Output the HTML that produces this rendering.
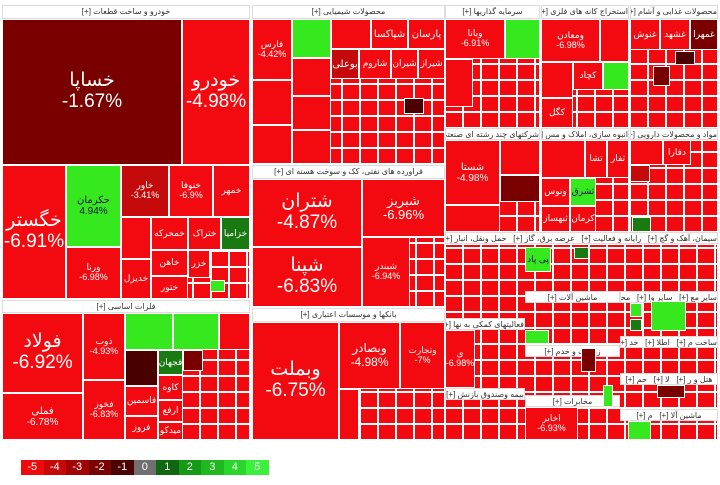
<!DOCTYPE html><html><head><meta charset="utf-8"><style>
body{margin:0;width:720px;height:485px;background:#fff;position:relative;overflow:hidden;font-family:"Liberation Sans","DejaVu Sans",sans-serif}
div{position:absolute;box-sizing:border-box}
.t{background:#f20a10;border:1px solid #fff;color:#fff;display:flex;align-items:center;justify-content:center;text-align:center;line-height:1.1;font-size:9px;overflow:hidden}
.g{background:#36e81e;color:#114}
.dg{background:#1a7a12}
.dr{background:#7a0000}
.md{background:#c40a0a}
.bk{background:#4a0000}
.h{background:#fff;border:1px solid #ddd;font-size:8px;color:#333;text-align:center;line-height:12px;white-space:nowrap;overflow:hidden;direction:rtl}
.grid{background-color:#f20a10;background-image:repeating-linear-gradient(90deg,transparent 0 16px,#fff 16px 18px),repeating-linear-gradient(0deg,transparent 0 14px,#fff 14px 16px);border:1px solid #fff}
.big{font-size:19px}
.lg{position:absolute;top:460px;height:15px;width:22.5px;color:#fff;font-size:11px;text-align:center;line-height:15px}
</style></head><body>
<div class="h" style="left:2px;top:5px;width:248px;height:14px">خودرو و ساخت قطعات [+]</div>
<div class="t dr big" style="left:2px;top:19px;width:180px;height:146px">خساپا<br>-1.67%</div>
<div class="t big" style="left:182px;top:19px;width:68px;height:146px">خودرو<br>-4.98%</div>
<div class="t big" style="left:2px;top:165px;width:64px;height:134px">خگستر<br>-6.91%</div>
<div class="t g" style="left:66px;top:165px;width:55px;height:82px;font-size:10px">حکرمان<br>4.94%</div>
<div class="t" style="left:66px;top:247px;width:55px;height:52px">ورنا<br>-6.98%</div>
<div class="t md" style="left:121px;top:165px;width:48px;height:52px">خاور<br>-3.41%</div>
<div class="t" style="left:169px;top:165px;width:44px;height:52px">خنوفا<br>-6.9%</div>
<div class="t" style="left:213px;top:165px;width:37px;height:52px">خمهر</div>
<div class="grid" style="left:121px;top:217px;width:129px;height:82px"></div>
<div class="t" style="left:121px;top:217px;width:30px;height:42px"></div>
<div class="t" style="left:151px;top:217px;width:37px;height:33px">خمحرکه</div>
<div class="t" style="left:188px;top:217px;width:33px;height:33px">ختراک</div>
<div class="t dg" style="left:221px;top:217px;width:29px;height:33px">خزامیا</div>
<div class="t" style="left:121px;top:259px;width:30px;height:40px">خدیزل</div>
<div class="t" style="left:151px;top:250px;width:37px;height:26px">خاهن</div>
<div class="t" style="left:151px;top:276px;width:37px;height:23px">ختور</div>
<div class="t" style="left:188px;top:250px;width:22px;height:28px">خزر</div>
<div class="t g" style="left:210px;top:280px;width:15px;height:12px"></div>
<div class="h" style="left:252px;top:5px;width:193px;height:14px">محصولات شیمیایی [+]</div>
<div class="grid" style="left:252px;top:19px;width:193px;height:145px"></div>
<div class="t" style="left:252px;top:19px;width:40px;height:61px">فارس<br>-4.42%</div>
<div class="t g" style="left:292px;top:19px;width:39px;height:39px"></div>
<div class="t" style="left:331px;top:19px;width:40px;height:30px"></div>
<div class="t" style="left:371px;top:19px;width:37px;height:30px;font-size:10px">شپاکسا</div>
<div class="t" style="left:408px;top:19px;width:37px;height:30px;font-size:10px">پارسان</div>
<div class="t md" style="left:331px;top:49px;width:28px;height:30px;font-size:10px">بوعلی</div>
<div class="t" style="left:359px;top:49px;width:32px;height:30px">شاروم</div>
<div class="t" style="left:391px;top:49px;width:27px;height:30px">شیران</div>
<div class="t" style="left:418px;top:49px;width:27px;height:30px">شیراز</div>
<div class="t" style="left:292px;top:58px;width:39px;height:38px"></div>
<div class="t" style="left:252px;top:80px;width:40px;height:45px"></div>
<div class="t" style="left:252px;top:125px;width:40px;height:39px"></div>
<div class="t" style="left:292px;top:96px;width:39px;height:34px"></div>
<div class="t" style="left:292px;top:130px;width:39px;height:34px"></div>
<div class="t bk" style="left:404px;top:98px;width:20px;height:16px"></div>
<div class="h" style="left:252px;top:165px;width:193px;height:14px">فراورده های نفتی، کک و سوخت هسته ای [+]</div>
<div class="t big" style="left:252px;top:179px;width:110px;height:68px">شتران<br>-4.87%</div>
<div class="t big" style="left:252px;top:247px;width:110px;height:60px">شپنا<br>-6.83%</div>
<div class="t" style="left:362px;top:179px;width:83px;height:58px;font-size:13px">شبریز<br>-6.96%</div>
<div class="grid" style="left:362px;top:237px;width:83px;height:70px"></div>
<div class="t" style="left:362px;top:237px;width:48px;height:70px">شبندر<br>-6.94%</div>
<div class="h" style="left:2px;top:300px;width:248px;height:13px">فلزات اساسی [+]</div>
<div class="grid" style="left:2px;top:313px;width:248px;height:127px"></div>
<div class="t big" style="left:2px;top:313px;width:81px;height:80px">فولاد<br>-6.92%</div>
<div class="t" style="left:2px;top:393px;width:81px;height:47px;font-size:10px">فملی<br>-6.78%</div>
<div class="t" style="left:83px;top:313px;width:42px;height:67px">ذوب<br>-4.93%</div>
<div class="t" style="left:83px;top:380px;width:42px;height:60px">فخوز<br>-6.83%</div>
<div class="t g" style="left:125px;top:313px;width:48px;height:37px"></div>
<div class="t g" style="left:173px;top:313px;width:46px;height:37px"></div>
<div class="t" style="left:219px;top:313px;width:31px;height:37px"></div>
<div class="t bk" style="left:125px;top:350px;width:33px;height:36px"></div>
<div class="t dg" style="left:158px;top:350px;width:25px;height:25px">فجهان</div>
<div class="t dr" style="left:183px;top:350px;width:20px;height:21px"></div>
<div class="t" style="left:125px;top:386px;width:33px;height:30px">فاسمین</div>
<div class="t" style="left:125px;top:416px;width:33px;height:24px">فروز</div>
<div class="t" style="left:158px;top:375px;width:25px;height:25px">کاوه</div>
<div class="t" style="left:158px;top:400px;width:25px;height:22px">ارفع</div>
<div class="t" style="left:158px;top:422px;width:25px;height:18px">میدکو</div>
<div class="h" style="left:252px;top:308px;width:193px;height:14px">بانکها و موسسات اعتباری [+]</div>
<div class="grid" style="left:252px;top:322px;width:193px;height:118px"></div>
<div class="t big" style="left:252px;top:322px;width:87px;height:118px">وبملت<br>-6.75%</div>
<div class="t" style="left:339px;top:322px;width:61px;height:67px;font-size:12px">وبصادر<br>-4.98%</div>
<div class="t" style="left:400px;top:322px;width:45px;height:67px">وتجارت<br>-7%</div>
<div class="t" style="left:339px;top:389px;width:20px;height:51px"></div>
<div class="h" style="left:445px;top:5px;width:95px;height:14px">سرمایه گذاریها [+]</div>
<div class="grid" style="left:445px;top:19px;width:95px;height:109px"></div>
<div class="t" style="left:445px;top:19px;width:60px;height:40px">وبانا<br>-6.91%</div>
<div class="t g" style="left:505px;top:19px;width:35px;height:40px"></div>
<div class="t" style="left:445px;top:59px;width:28px;height:48px"></div>
<div class="h" style="left:541px;top:5px;width:88px;height:14px">استخراج کانه های فلزی [+]</div>
<div class="grid" style="left:541px;top:19px;width:88px;height:109px"></div>
<div class="t" style="left:541px;top:19px;width:59px;height:43px">ومعادن<br>-6.98%</div>
<div class="t" style="left:600px;top:19px;width:29px;height:43px"></div>
<div class="t" style="left:541px;top:62px;width:32px;height:36px"></div>
<div class="t" style="left:573px;top:62px;width:30px;height:28px">کچاد</div>
<div class="t g" style="left:603px;top:62px;width:26px;height:28px"></div>
<div class="t" style="left:541px;top:98px;width:32px;height:30px">کگل</div>
<div class="h" style="left:630px;top:5px;width:88px;height:14px">محصولات غذایی و آشام [+]</div>
<div class="grid" style="left:630px;top:19px;width:88px;height:109px"></div>
<div class="t" style="left:630px;top:19px;width:30px;height:31px">غنوش</div>
<div class="t" style="left:660px;top:19px;width:30px;height:31px">غشهد</div>
<div class="t dr" style="left:690px;top:19px;width:28px;height:31px">غمهرا</div>
<div class="t bk" style="left:675px;top:51px;width:20px;height:14px"></div>
<div class="t dr" style="left:653px;top:66px;width:17px;height:20px"></div>
<div class="h" style="left:445px;top:128px;width:95px;height:12px">شرکتهای چند رشته ای صنعتی [+]</div>
<div class="grid" style="left:445px;top:140px;width:95px;height:92px"></div>
<div class="t" style="left:445px;top:140px;width:55px;height:65px;font-size:10px">شستا<br>-4.98%</div>
<div class="t" style="left:500px;top:140px;width:40px;height:35px"></div>
<div class="t dr" style="left:500px;top:175px;width:40px;height:27px"></div>
<div class="t" style="left:445px;top:205px;width:55px;height:27px"></div>
<div class="h" style="left:541px;top:128px;width:88px;height:12px">انبوه سازی، املاک و مس [+]</div>
<div class="grid" style="left:541px;top:140px;width:88px;height:92px"></div>
<div class="t" style="left:541px;top:140px;width:44px;height:38px"></div>
<div class="t" style="left:585px;top:140px;width:22px;height:38px">تشا</div>
<div class="t" style="left:607px;top:140px;width:22px;height:38px">ثفار</div>
<div class="t" style="left:541px;top:178px;width:29px;height:28px">ونوس</div>
<div class="t g" style="left:570px;top:178px;width:26px;height:28px">ثشرق</div>
<div class="t" style="left:541px;top:206px;width:29px;height:26px">ثبهساز</div>
<div class="t" style="left:570px;top:206px;width:26px;height:26px">کرمان</div>
<div class="h" style="left:630px;top:128px;width:88px;height:12px">مواد و محصولات دارویی [+]</div>
<div class="grid" style="left:630px;top:140px;width:88px;height:92px"></div>
<div class="t" style="left:630px;top:140px;width:33px;height:25px"></div>
<div class="t" style="left:663px;top:140px;width:28px;height:25px">دفارا</div>
<div class="t md" style="left:630px;top:165px;width:20px;height:17px"></div>
<div class="t dg" style="left:632px;top:217px;width:19px;height:15px"></div>
<div class="h" style="left:445px;top:232px;width:273px;height:12px">سیمان، آهک و گچ [+] &nbsp; رایانه و فعالیت [+] &nbsp; عرضه برق، گاز [+] &nbsp; حمل ونقل، انبار [+]</div>
<div class="grid" style="left:445px;top:244px;width:273px;height:196px"></div>
<div class="h" style="left:525px;top:291px;width:95px;height:12px">ماشین آلات [+]</div>
<div class="h" style="left:620px;top:291px;width:98px;height:12px">سایر مع [+] &nbsp; سایر وا [+] &nbsp; محصو [+]</div>
<div class="h" style="left:445px;top:318px;width:80px;height:12px">فعالیتهای کمکی به نها [+]</div>
<div class="h" style="left:525px;top:345px;width:95px;height:12px">زراعت و خدم [+]</div>
<div class="h" style="left:620px;top:336px;width:98px;height:12px">ساخت م [+] &nbsp; اطلا [+] &nbsp; خد [+]</div>
<div class="h" style="left:620px;top:373px;width:98px;height:12px">هتل و ر [+] &nbsp; لا [+] &nbsp; حم [+]</div>
<div class="h" style="left:445px;top:388px;width:80px;height:12px">بیمه وصندوق بازنش [+]</div>
<div class="h" style="left:525px;top:395px;width:95px;height:12px">مخابرات [+]</div>
<div class="h" style="left:620px;top:409px;width:98px;height:12px">ماشین آلا [+] &nbsp; م [+]</div>
<div class="t g" style="left:525px;top:247px;width:26px;height:25px">پی پاد</div>
<div class="t dg" style="left:574px;top:247px;width:15px;height:12px"></div>
<div class="t dr" style="left:581px;top:348px;width:15px;height:24px"></div>
<div class="t g" style="left:603px;top:385px;width:10px;height:22px"></div>
<div class="t dr" style="left:657px;top:385px;width:28px;height:13px"></div>
<div class="t g" style="left:651px;top:301px;width:35px;height:30px"></div>
<div class="t g" style="left:630px;top:303px;width:12px;height:14px"></div>
<div class="t dg" style="left:630px;top:319px;width:12px;height:12px"></div>
<div class="t g" style="left:628px;top:421px;width:23px;height:19px"></div>
<div class="t g" style="left:525px;top:330px;width:24px;height:14px"></div>
<div class="t" style="left:445px;top:330px;width:30px;height:58px">ی<br>-6.98%</div>
<div class="t" style="left:525px;top:407px;width:53px;height:33px">اخابر<br>-6.93%</div>
<div class="lg" style="left:21px;background:#ee0a0a">-5</div>
<div class="lg" style="left:43.5px;background:#c80808">-4</div>
<div class="lg" style="left:66px;background:#a00606">-3</div>
<div class="lg" style="left:88.5px;background:#780404">-2</div>
<div class="lg" style="left:111px;background:#4a0202">-1</div>
<div class="lg" style="left:133.5px;background:#707070">0</div>
<div class="lg" style="left:156px;background:#116611">1</div>
<div class="lg" style="left:178.5px;background:#159a15">2</div>
<div class="lg" style="left:201px;background:#1fb81f">3</div>
<div class="lg" style="left:223.5px;background:#2bd62b">4</div>
<div class="lg" style="left:246px;background:#3cf03c">5</div>
</body></html>
